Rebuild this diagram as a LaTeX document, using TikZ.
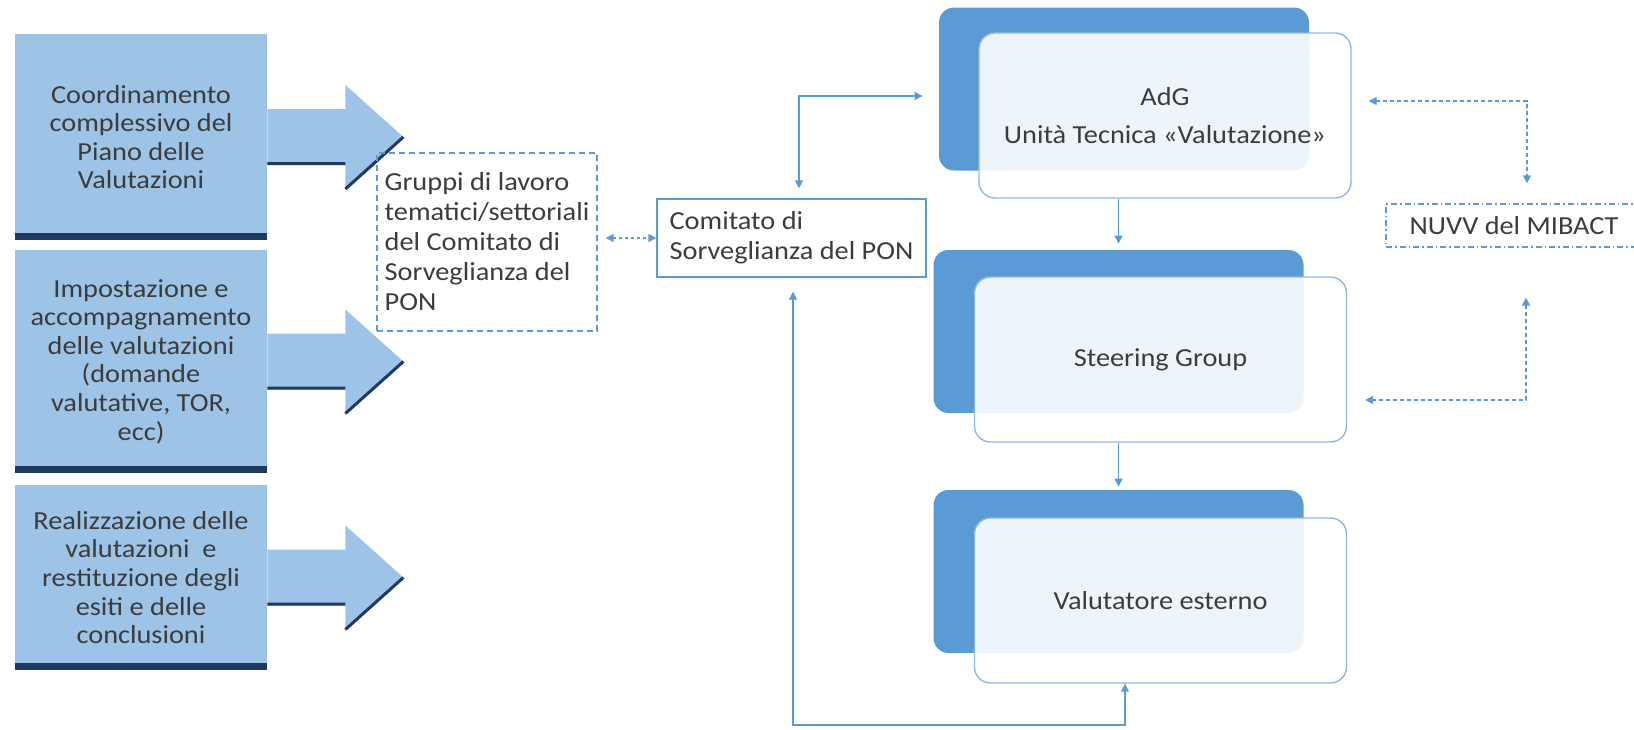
\documentclass[tikz,border=0pt]{standalone}
\usepackage{fontspec}
\setmainfont{Carlito}[FakeStretch=1.09]
\usetikzlibrary{arrows.meta}

\definecolor{paleblue}{HTML}{9DC3E6}
\definecolor{navy}{HTML}{203864}
\definecolor{midblue}{HTML}{5B9BD5}
\definecolor{frameblue}{HTML}{8FB9E3}
\definecolor{textgray}{HTML}{3C3C3C}

\begin{document}
\begin{tikzpicture}[x=0.5pt, y=-0.5pt, >={Triangle[length=4pt,width=4pt]},
	leftbox/.style={fill=paleblue, text=textgray, align=center, inner sep=0pt, minimum width=126pt, font=\fontsize{13}{14.3}\selectfont},
	navybar/.style={draw=navy, line width=3.5pt},
	shadowline/.style={draw=navy, line width=1.5pt},
	backbox/.style={fill=midblue, rounded corners=7.5pt, inner sep=0pt, minimum width=185pt, minimum height=81.5pt},
	frontbox/.style={draw=frameblue, line width=0.7pt, fill=white, fill opacity=0.9, text opacity=1, rounded corners=8pt, inner sep=0pt, minimum width=186pt, minimum height=82.5pt, text=textgray, align=center, font=\fontsize{13}{15}\selectfont},
	plainbox/.style={draw=midblue, line width=0.7pt, text=textgray, align=left, inner sep=0pt, font=\fontsize{13}{15}\selectfont},
	link/.style={draw=midblue, line width=0.7pt},
	dotlink/.style={draw=midblue, line width=0.9pt, dash pattern=on 1.5pt off 1.5pt},
	dashlink/.style={draw=midblue, line width=0.7pt, dash pattern=on 2pt off 1.5pt}]

		\useasboundingbox (0,0) rectangle (1634,729);

		\node[leftbox, minimum height=103pt] (coord) at (141,137) {Coordinamento\\complessivo del\\Piano delle\\Valutazioni};
		\node[leftbox, minimum height=111.5pt] (impost) at (141,361.5) {Impostazione e\\accompagnamento\\delle valutazioni\\(domande\\valutative, TOR,\\ecc)};
		\node[leftbox, minimum height=92.5pt] (realiz) at (141,577.5) {Realizzazione delle\\valutazioni\ \ e\\restituzione degli\\esiti e delle\\conclusioni};

		\draw[navybar] ([yshift=1.75pt]coord.south west) -- ([yshift=1.75pt]coord.south east);
		\draw[navybar] ([yshift=1.75pt]impost.south west) -- ([yshift=1.75pt]impost.south east);
		\draw[navybar] ([yshift=1.75pt]realiz.south west) -- ([yshift=1.75pt]realiz.south east);

		\fill[paleblue] (coord.east) ++(0,-28) -- ++(78,0) -- ++(0,-24) -- ++(58,52) -- ++(-58,52) -- ++(0,-24) -- ++(-78,0) -- cycle;
		\draw[shadowline] (coord.east) ++(0,26.5) -- ++(78,0) (coord.east) ++(136,0) -- ++(-58,52);

		\fill[paleblue] (impost.east) ++(0,-28) -- ++(78,0) -- ++(0,-24) -- ++(58,52) -- ++(-58,52) -- ++(0,-24) -- ++(-78,0) -- cycle;
		\draw[shadowline] (impost.east) ++(0,26.5) -- ++(78,0) (impost.east) ++(136,0) -- ++(-58,52);

		\fill[paleblue] (realiz.east) ++(0,-28) -- ++(78,0) -- ++(0,-24) -- ++(58,52) -- ++(-58,52) -- ++(0,-24) -- ++(-78,0) -- cycle;
		\draw[shadowline] (realiz.east) ++(0,26.5) -- ++(78,0) (realiz.east) ++(136,0) -- ++(-58,52);

		\node[plainbox, densely dashed, minimum width=110pt, minimum height=89pt] (gruppi) at (487,242) {Gruppi di lavoro\\tematici/settoriali\\del Comitato di\\Sorveglianza del\\PON};
		\node[plainbox, minimum width=134.5pt, minimum height=39pt] (comitato) at (791.5,238) {Comitato di\\Sorveglianza del PON};

		\node[backbox] (adgback) at (1124,89) {};
		\node[frontbox] (adgfront) at (1165,115.5) {AdG\\[4pt]Unità Tecnica «Valutazione»};

		\node[backbox] (steerback) at (1118.5,331.5) {};
		\node[frontbox] (steerfront) at (1160.5,359.5) {Steering Group};

		\node[backbox] (valutback) at (1118.5,571.5) {};
		\node[frontbox] (valutfront) at (1160.5,600.5) {Valutatore esterno};

		\node[plainbox, align=center, dash pattern=on 3pt off 1.5pt on 0.8pt off 1.5pt, minimum width=128pt, minimum height=21.5pt] (nuvv) at (1514,225.5) {NUVV del MIBACT};

		\coordinate (loopend) at (1125,725);

		\draw[dotlink, <->, shorten <=4pt] (gruppi.east |- comitato.west) -- (comitato.west);
		\draw[link, <->, shorten <=5pt, shorten >=8pt] ([xshift=3.75pt]comitato.north) |- ([yshift=-3.5pt]adgback.west);
		\draw[link, <->, shorten <=7pt] ([xshift=0.75pt]comitato.south) |- (loopend) -- (loopend |- valutfront.south);

		\draw[link, ->, shorten >=3pt] (adgfront.south -| steerback.north) -- (steerback.north);
		\draw[link, ->, shorten >=1.5pt] (steerfront.south -| valutback.north) -- (valutback.north);

		\draw[dashlink, <->, shorten <=8.5pt, shorten >=10pt] ([yshift=7.25pt]adgfront.east) -| ([xshift=6.5pt]nuvv.north);
		\draw[dashlink, <->, shorten <=25pt, shorten >=9pt] ([xshift=6pt]nuvv.south) |- ([yshift=-20.25pt]steerfront.east);

\end{tikzpicture}
\end{document}
